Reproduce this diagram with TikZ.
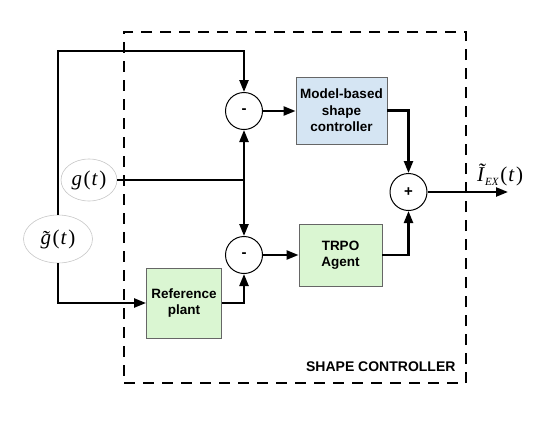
\documentclass[tikz,border=0pt]{standalone}
\usepackage{fontspec}
\setmainfont{Liberation Serif}
\setsansfont{Liberation Sans}
\usetikzlibrary{arrows.meta,shapes.geometric}
\definecolor{blueFill}{HTML}{D5E5F3}
\definecolor{greenFill}{HTML}{DAF6D2}
\newcommand{\tildeg}{\ooalign{\textit{g}\cr\hidewidth\raisebox{-1.5pt}{\textit{\char"02DC}}\hidewidth\cr}}
\begin{document}
\begin{tikzpicture}[x=1pt,y=-1pt,
  tip/.style={-{Triangle[length=12pt,width=9pt]}},
  conn/.style={line width=2.3pt,tip},
  plain/.style={line width=2.3pt},
  sumnode/.style={circle,draw,line width=1pt,fill=white,minimum size=37pt,inner sep=0pt,font=\sffamily\bfseries\fontsize{15}{15}\selectfont},
  blk/.style={draw=black!60,line width=0.9pt,font=\sffamily\bfseries\fontsize{13.5}{16.5}\selectfont,align=center,inner sep=0pt},
  sig/.style={ellipse,draw=black!22,line width=0.6pt,fill=white,inner sep=0pt,font=\fontsize{21}{21}\selectfont}
]
\useasboundingbox (0,0) rectangle (560,424);
% outer dashed controller box
\node[draw,line width=2.5pt,dash pattern=on 11pt off 8pt,minimum width=342pt,minimum height=351pt,inner sep=0pt] (scbox) at (295,207.5) {};
\node[anchor=east,font=\sffamily\bfseries\fontsize{14}{14}\selectfont] (sclabel) at (459,367) {SHAPE CONTROLLER};

% summing junctions
\node[sumnode] (m1) at (244,111) {-};
\node[sumnode] (m2) at (244,255) {-};
\node[sumnode] (plus) at (408.5,192) {+};

% blocks
\node[blk,fill=blueFill,minimum width=91pt,minimum height=67pt] (model) at (341.5,110.5) {Model-based\\shape\\controller};
\node[blk,fill=greenFill,minimum width=83pt,minimum height=62pt] (trpo) at (340.5,255) {TRPO\\Agent};
\node[blk,fill=greenFill,minimum width=75pt,minimum height=70pt] (ref) at (184,303) {Reference\\plant};

% signals
\node[sig,minimum width=56pt,minimum height=42pt] (g) at (89,180) {\textit{g}\kern1.5pt(\kern1pt\textit{t}\kern1.5pt)};
\node[sig,minimum width=69pt,minimum height=48pt] (gt) at (58,239) {\tildeg\kern1.5pt(\kern1pt\textit{t}\kern1.5pt)};
\coordinate (out) at (508,192);
\node[anchor=south west,inner sep=0pt,font=\fontsize{21}{21}\selectfont] (outlabel) at (477,186) {\textit{\~{I}}\kern-1pt\raisebox{-4pt}{\fontsize{11}{11}\selectfont\textit{EX}}\kern1.5pt(\kern1pt\textit{t}\kern1.5pt)};

% connectors
\draw[conn] (gt.north) -- ++(0,-164) -| (m1.north);
\draw[conn] (gt.south) |- (ref.west);
\draw[conn] (ref.east) -| (m2.south);
\draw[plain] (g.east) -- (m1.south |- g.east);
\draw[line width=2.3pt,{Triangle[length=12pt,width=9pt]}-{Triangle[length=12pt,width=9pt]}] (m1.south) -- (m2.north);
\draw[conn] (m1.east) -- (model.west |- m1.east);
\draw[conn] (m2.east) -- (trpo.west |- m2.east);
\draw[conn] (model.east) -| (plus.north);
\draw[conn] (trpo.east) -| (plus.south);
\draw[conn] (plus.east) -- (out);
\end{tikzpicture}
\end{document}
